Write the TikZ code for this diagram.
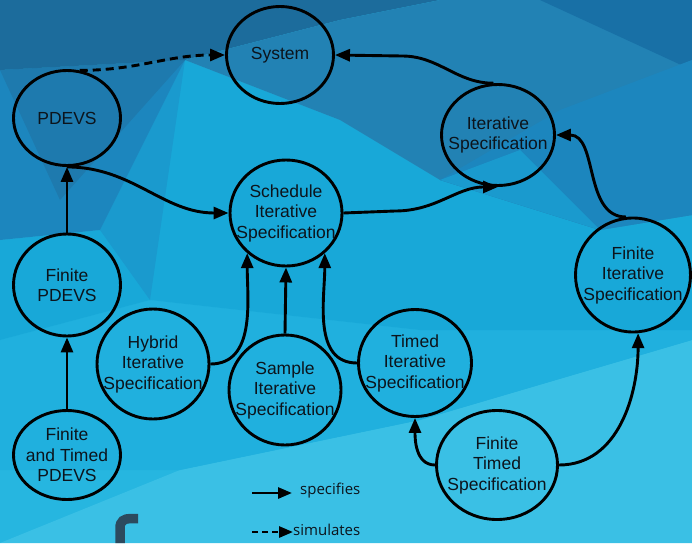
\documentclass[tikz,border=0pt]{standalone}
\usepackage{fontspec}
\setmainfont{Liberation Sans}
\newfontfamily\legendfont{Open Sans}
\usetikzlibrary{shapes.geometric,arrows.meta}

% low-poly backdrop tones
\definecolor{bgA}{RGB}{28,108,156}
\definecolor{bgB}{RGB}{30,122,174}
\definecolor{bgC}{RGB}{28,134,190}
\definecolor{bgD}{RGB}{24,168,216}
\definecolor{bgE}{RGB}{38,182,224}
\definecolor{bgF}{RGB}{58,192,229}
\definecolor{bgG}{RGB}{34,130,180}
\definecolor{bgH}{RGB}{24,112,166}
\definecolor{bgI}{RGB}{26,154,206}
\definecolor{bgJ}{RGB}{32,176,222}
\definecolor{frag}{RGB}{44,74,94}
\definecolor{ink}{RGB}{12,20,28}

\begin{document}
\begin{tikzpicture}[x=1pt,y=-1pt,
  state/.style={draw=black, line width=2.9pt, ellipse, inner sep=0pt},
  txt/.style={font=\fontsize{17.5}{20.5}\selectfont, align=center, text=ink},
  link/.style={line width=2.9pt, -{Triangle[length=15pt,width=12pt]}},
  sim/.style={link, dash pattern=on 8pt off 5pt},
  keyline/.style={line width=2.8pt, -{Triangle[length=14pt,width=11pt]}},
  keysim/.style={keyline, dash pattern=on 6pt off 4pt},
  keytxt/.style={font=\legendfont\fontsize{15}{18}\selectfont, text=ink, inner sep=0pt, anchor=west}]

\useasboundingbox (0,0) rectangle (692,543);

% ---- backdrop facets ----
\fill[bgE] (0,0) rectangle (692,543);
\fill[bgF] (0,543) -- (180,470) -- (420,420) -- (692,340) -- (692,543) -- cycle;
\fill[bgJ] (0,340) -- (150,300) -- (420,330) -- (692,330) -- (692,340) -- (420,420) -- (180,470) -- (0,470) -- cycle;
\fill[bgD] (0,240) -- (100,230) -- (185,60) -- (340,120) -- (440,180)
  -- (600,230) -- (692,215) -- (692,330) -- (420,330) -- (150,300) -- (0,340) -- cycle;
\fill[bgI] (100,230) -- (185,60) -- (150,300) -- cycle;
\fill[bgC] (0,70) -- (185,60) -- (100,230) -- (0,240) -- cycle;
\fill[bgB] (0,70) -- (185,60) -- (60,200) -- cycle;
\fill[bgA] (0,0) -- (440,0) -- (340,20) -- (185,60) -- (0,70) -- cycle;
\fill[bgG] (185,60) -- (340,20) -- (440,0) -- (692,0) -- (692,215)
  -- (600,230) -- (440,180) -- (340,120) -- cycle;
\fill[bgH] (540,0) -- (692,0) -- (692,70) -- cycle;
\fill[bgC] (440,180) -- (560,110) -- (692,60) -- (692,215) -- (600,230) -- cycle;
\fill[bgI] (440,180) -- (520,150) -- (600,230) -- cycle;

% dark letter stroke at the lower edge
\draw[line width=9.5pt, color=frag] (120,543) -- (120,528)
  .. controls (120,521) and (124,518.5) .. (131,518.5) -- (138,518.5);

% ---- states ----
\node[state, minimum width=107pt, minimum height=97pt,
  label={[txt]center:System}] (sys) at (280,55) {};
\node[state, minimum width=107pt, minimum height=95pt,
  label={[txt]center:PDEVS}] (pdevs) at (67,118) {};
\node[state, minimum width=112pt, minimum height=106pt,
  label={[txt]center:Schedule\\Iterative\\Specification}] (sched) at (286,213) {};
\node[state, minimum width=113pt, minimum height=101pt,
  label={[txt]center:Iterative\\Specification}] (iter) at (498,135) {};
\node[state, minimum width=115pt, minimum height=114pt,
  label={[txt]center:Finite\\Iterative\\Specification}] (fiter) at (633,275) {};
\node[state, minimum width=107pt, minimum height=102pt,
  label={[txt]center:Finite\\PDEVS}] (fpdevs) at (67,285) {};
\node[state, minimum width=112pt, minimum height=110pt,
  label={[txt]center:Hybrid\\Iterative\\Specification}] (hyb) at (153,364) {};
\node[state, minimum width=112pt, minimum height=110pt,
  label={[txt]center:Sample\\Iterative\\Specification}] (samp) at (285,390) {};
\node[state, minimum width=107pt, minimum height=89pt,
  label={[txt]center:Finite\\and Timed\\PDEVS}] (ftpdevs) at (67,455) {};
\node[state, minimum width=113pt, minimum height=107pt,
  label={[txt]center:Timed\\Iterative\\Specification}] (timed) at (415,363) {};
\node[state, minimum width=121pt, minimum height=109pt,
  label={[txt]center:Finite\\Timed\\Specification}] (ftimed) at (497,465) {};

% ---- relations ----
\coordinate (bendsys) at (402,56);
\coordinate (benditer) at (395,211);
\draw[sim]  (pdevs.75) to[out=0,in=180] (sys.west);
\draw[link] (iter.95) to[out=180,in=0] (bendsys) -- (sys.east);
\draw[link] (pdevs.south) to[out=0,in=180] (sched.west);
\draw[link] (sched.east) -- (benditer) to[out=0,in=180] (iter.south);
\draw[link] (fiter.97) to[out=180,in=0] (iter.east);
\draw[link] (fpdevs.north) -- (pdevs.south);
\draw[link] (ftpdevs.north) -- (fpdevs.south);
\draw[link] (hyb.east) to[out=0,in=-90] (sched.-134);
\draw[link] (samp.north) -- (sched.south);
\draw[link] (timed.west) to[out=180,in=-90] (sched.-46);
\draw[link] (ftimed.west) to[out=180,in=-90] (timed.south);
\draw[link] (ftimed.east) to[out=0,in=-90] (fiter.-85);

% ---- legend ----
\coordinate (keyA) at (252,493);
\coordinate (keyAend) at (292,493);
\coordinate (keyB) at (252,532);
\node[keytxt] (keyspec) at (300,491) {specifies};
\node[keytxt] (keysimu) at (293,530) {simulates};
\draw[keyline] (keyA) -- (keyAend);
\draw[keysim] (keyB) -- (keyB -| keysimu.west);
\end{tikzpicture}
\end{document}
